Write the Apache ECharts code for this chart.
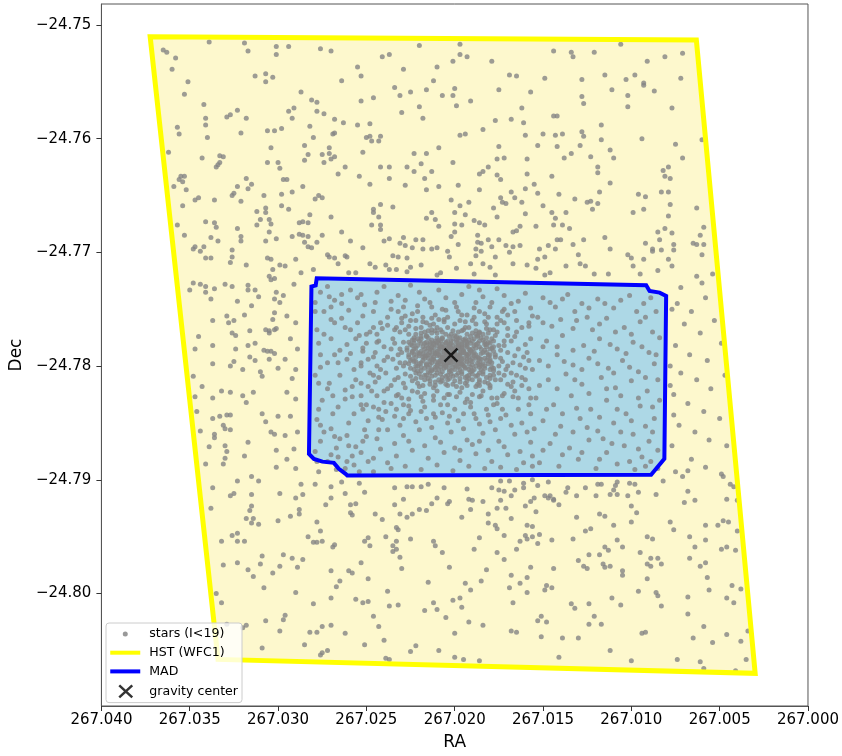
<!DOCTYPE html>
<html>
<head>
<meta charset="utf-8">
<script src="https://cdn.jsdelivr.net/npm/echarts@6/dist/echarts.min.js"></script>
<style>
  html, body { margin: 0; padding: 0; background: #fff; }
  #chart { width: 842px; height: 756px; }
</style>
</head>
<body>
<div id="chart"></div>
<script>
// Axis ticks
const raTicks = [267.000, 267.005, 267.010, 267.015, 267.020, 267.025, 267.030, 267.035, 267.040];
const decTicks = [-24.80, -24.79, -24.78, -24.77, -24.76, -24.75];

// HST WFC1 footprint (vertices)
const hstRA  = [267.03724, 267.00632, 267.00299, 267.03340];
const hstDec = [-24.75105, -24.75132, -24.80702, -24.80579];

// MAD field outline (vertices)
const madRA  = [267.02781, 267.02787, 267.02811, 267.02825, 267.02797, 267.02749, 267.02684, 267.02656,
                267.02618, 267.02608, 267.00888, 267.00813, 267.00803, 267.00840, 267.00897, 267.00916];
const madDec = [-24.77228, -24.77290, -24.77301, -24.78772, -24.78816, -24.78840, -24.78851, -24.78904,
                -24.78947, -24.78962, -24.78956, -24.78816, -24.77383, -24.77354, -24.77340, -24.77290];

// Gravity center
const centerRA = [267.02021];
const centerDec = [-24.77903];

// Stars (I<19): [RA offset, Dec offset] in units of 1e-4 deg,
// RA = 267 + a*1e-4, Dec = -24.7 - b*1e-4
const RA0 = 267, DEC0 = -24.7, UNIT = 1e-4;
const starOffsets = [
[365,522],[363,524],[358,529],[360,539],[339,515],[319,516],[317,523],[301,519],[294,519],[301,526],[276,521],[270,523],
[351,550],[353,561],[313,545],[307,543],[303,546],[307,550],[264,549],[287,559],[281,566],[278,568],[342,570],[323,575],
[327,579],[329,581],[341,582],[341,588],[318,582],[294,576],[291,573],[278,576],[274,578],[292,582],[268,583],[263,586],
[357,590],[356,596],[340,599],[321,595],[306,593],[302,593],[298,591],[282,589],[280,599],[269,596],[268,595],
[285,606],[304,608],[271,608],[362,612],[343,617],[333,615],[331,616],[333,621],[334,623],[335,625],[306,621],[300,621],
[299,626],[285,619],[283,614],[275,614],[271,613],[268,616],[270,618],[274,621],[262,625],[266,631],[356,636],[355,633],
[353,633],[354,638],[359,642],[352,645],[318,635],[315,640],[317,644],[323,642],[297,636],[295,636],[286,642],[292,647],
[298,649],[277,650],[275,652],[279,653],[326,650],[325,648],[321,655],[336,654],[345,652],[347,654],[354,659],[308,650],
[307,661],[307,665],[312,664],[298,659],[294,662],[270,669],[282,667],[357,676],[341,673],[336,674],[335,678],[323,679],
[310,671],[305,671],[304,675],[312,676],[288,674],[286,673],[283,674],[353,685],[338,687],[334,690],[321,686],[321,690],
[305,682],[307,690],[301,688],[292,686],[288,684],[286,685],[283,686],[285,691],[283,695],[281,696],[278,691],[275,685],
[264,682],[259,690],[347,695],[348,697],[342,695],[344,699],[341,705],[338,705],[326,698],[326,704],[327,709],[318,711],
[306,705],[304,706],[299,711],[303,715],[290,706],[272,702],[271,704],[268,705],[262,703],[261,704],
[220,518],[197,517],[241,528],[237,526],[197,526],[193,528],[201,532],[179,532],[255,537],[253,545],[229,539],[210,537],
[169,544],[165,545],[149,547],[212,549],[234,555],[231,562],[225,559],[216,557],[200,556],[207,562],[201,562],[175,557],
[157,559],[253,567],[246,564],[191,567],[220,572],[199,571],[162,573],[230,577],[218,582],[168,583],[177,584],[161,586],
[255,588],[248,587],[184,592],[197,597],[194,596],[250,599],[248,598],[242,598],[247,602],[243,602],[160,597],[150,596],
[209,608],[175,607],[153,606],[252,612],[223,613],[216,613],[176,618],[172,617],[159,618],[219,622],[201,621],[242,625],
[237,625],[227,625],[223,629],[213,629],[181,625],[186,631],[184,629],[176,632],[174,636],[159,631],[254,633],[237,635],
[217,635],[248,640],[228,641],[209,642],[198,641],[186,645],[155,640],[216,645],[160,644],[168,647],[202,654],[197,659],
[192,656],[174,652],[173,656],[171,657],[166,652],[162,656],[153,648],[150,659],[242,658],[235,660],[246,662],[246,665],
[243,669],[213,665],[200,665],[194,667],[178,661],[160,666],[216,670],[211,671],[189,672],[186,674],[209,677],[200,675],
[196,676],[183,676],[176,669],[247,676],[242,676],[242,680],[163,677],[165,681],[167,682],[154,677],[202,686],[200,682],
[187,685],[240,690],[237,688],[229,687],[222,689],[218,689],[231,692],[228,694],[224,696],[218,697],[213,697],[210,696],
[198,693],[187,691],[185,692],[181,689],[175,689],[179,695],[171,694],[167,695],[163,694],[252,696],[188,697],[185,699],
[152,697],[147,694],[235,703],[232,704],[227,705],[204,699],[203,704],[188,703],[177,704],[169,700],[153,706],[149,704],
[106,517],[144,523],[134,524],[133,528],[121,524],[91,532],[81,528],[71,525],[115,544],[128,548],[103,548],[98,544],
[93,551],[93,553],[72,547],[111,557],[87,558],[128,563],[127,569],[102,562],[102,572],[77,573],[144,580],[142,580],
[117,588],[143,597],[139,596],[128,594],[127,598],[117,601],[94,600],[60,601],[142,607],[129,606],[134,613],[138,617],
[123,616],[112,610],[110,617],[75,605],[71,617],[119,625],[119,630],[145,633],[112,639],[82,628],[79,625],[81,633],
[78,635],[141,649],[132,653],[118,647],[125,656],[123,655],[119,657],[122,662],[96,649],[92,651],[83,647],[79,647],
[93,662],[78,658],[63,661],[99,665],[145,665],[143,670],[137,665],[79,668],[144,676],[139,676],[135,679],[81,679],
[85,682],[77,683],[59,678],[61,685],[142,689],[140,689],[127,689],[115,687],[133,693],[143,697],[112,697],[92,692],
[76,693],[84,689],[65,692],[63,693],[59,693],[88,699],[88,697],[83,698],[76,698],[102,702],[130,702],[60,702],
[100,705],[93,706],[79,706],[63,721],[54,719],
[348,727],[344,728],[341,730],[341,735],[350,733],[336,732],[330,728],[326,730],[317,729],[317,733],[313,733],[311,739],
[338,741],[323,743],[315,747],[337,760],[329,756],[328,762],[325,760],[319,755],[326,771],[324,773],[316,769],[345,774],
[347,785],[337,782],[324,785],[317,782],[313,780],[337,798],[327,800],[325,796],[320,803],[316,792],[313,795],[348,809],
[343,818],[332,822],[327,823],[320,826],[318,832],[314,823],[337,828],[347,827],[346,840],[337,846],[333,844],[329,843],
[327,843],[331,852],[330,855],[327,856],[344,857],[336,860],[336,863],[339,871],[330,870],[329,875],[331,886],[330,881],
[341,886],[317,867],[319,879],[309,842],[307,849],[309,809],[310,805],[305,721],[304,724],[302,723],[301,735],
[307,768],[305,769],[305,771],[302,768],[301,767],[308,786],[306,787],[304,787],[302,789],[305,794],[300,802],[303,759],
[302,753],[299,744],[302,741],[300,844],[302,860],[304,858],[301,874],[301,889],
[337,907],[323,901],[315,897],[311,901],[325,912],[327,914],[315,913],[315,923],[316,927],[318,934],[314,934],[315,938],
[311,939],[338,925],[299,912],[287,904],[286,913],[290,916],[288,926],[288,930],[293,932],[300,936],[279,904],[270,906],
[270,916],[273,922],[262,912],[264,902],[254,903],[251,911],[259,922],[256,921],[259,929],[258,931],[245,930],[241,935],
[234,907],[227,906],[224,906],[219,906],[215,904],[229,917],[234,922],[231,930],[227,933],[224,930],[220,926],[216,927],
[213,921],[210,916],[203,919],[204,921],[206,907],[193,908],[192,917],[190,918],[191,926],[196,933],[278,937],[276,945],
[283,950],[280,955],[278,955],[275,954],[326,949],[323,947],[323,954],[319,954],[332,954],[268,957],[269,959],[251,954],
[249,951],[248,958],[239,950],[233,942],[232,944],[233,954],[235,958],[233,961],[235,963],[231,968],[225,952],[212,954],
[211,958],[207,964],[186,951],[189,961],[309,967],[310,974],[297,966],[292,969],[289,977],[286,970],[299,976],[303,982],
[314,985],[317,979],[323,973],[331,975],[270,980],[260,980],[258,982],[253,973],[249,987],[265,989],[267,994],[270,1004],
[290,999],[308,995],[230,978],[215,990],[203,977],[194,991],[191,997],[238,998],[256,1005],[252,1008],[249,1007],[237,1011],
[232,1010],[217,1015],[212,1008],[210,1014],[205,1021],[201,1006],[197,1004],[196,1012],[280,1009],[332,1008],[335,1000],
[296,1019],[297,1023],[307,1024],[318,1028],[320,1030],[299,1033],[282,1034],[278,1034],[275,1029],[270,1028],[262,1035],
[246,1020],[243,1029],[240,1041],[251,1045],[285,1045],[309,1048],[276,1054],[275,1052],[272,1050],[239,1057],[237,1058],
[225,1051],[222,1046],[209,1050],[200,1056],[195,1058],[192,1025],[200,1035],[186,1059],[329,1027],
[179,907],[175,909],[172,910],[169,901],[174,901],[166,909],[161,903],[161,907],[156,900],[153,905],[147,902],[149,914],
[146,914],[147,916],[144,917],[141,922],[144,918],[137,911],[136,907],[131,914],[126,907],[120,914],[119,904],[117,904],
[112,913],[110,909],[109,905],[108,913],[108,902],[102,914],[101,903],[98,904],[96,911],[86,913],[82,901],[68,910],
[68,892],[48,897],[44,904],[42,906],[46,917],[40,918],[184,919],[181,930],[181,938],[176,925],[171,925],[174,918],
[168,914],[157,919],[155,916],[160,923],[154,928],[168,934],[177,940],[176,943],[159,940],[156,941],[131,933],[118,930],
[115,932],[100,923],[97,929],[100,937],[110,940],[126,945],[123,943],[70,920],[64,918],[78,937],[76,944],[58,940],
[51,940],[48,936],[45,937],[40,945],[172,949],[163,954],[165,961],[160,949],[159,952],[156,950],[152,948],[153,956],
[145,953],[133,952],[108,953],[105,959],[115,959],[113,962],[118,966],[124,966],[130,971],[127,976],[125,978],[116,974],
[115,977],[112,976],[105,980],[105,984],[95,964],[91,950],[88,952],[89,969],[85,969],[83,974],[91,974],[89,976],
[67,950],[64,959],[67,969],[58,953],[61,976],[58,973],[49,961],[46,959],[41,962],[176,964],[172,970],[182,979],
[185,989],[168,984],[163,991],[159,986],[157,977],[144,978],[169,995],[159,999],[148,993],[149,997],[145,995],[91,987],
[96,998],[86,999],[85,1002],[83,1011],[111,1004],[106,1010],[134,1009],[132,1013],[124,1009],[167,1008],[121,1020],[124,1027],
[117,1027],[151,1020],[153,1024],[148,1025],[168,1033],[165,1034],[151,1038],[139,1039],[130,1039],[141,1056],[112,1050],[94,1035],
[92,1034],[100,1059],[74,1058],[68,1003],[68,1018],[65,1039],[59,1029],[61,1060],[59,1066],[54,1043],[46,1036],[43,993],
[38,996],[42,1008],[46,1004],[57,986],[56,997],[34,1033],[38,1042],[35,1058],[41,1068],[184,1028],
[296,712],[287,718],[280,715],[266,710],[260,718],[256,718],[248,710],[245,713],[239,711],[237,715],[233,715],[227,717],
[225,713],[219,711],[210,720],[208,718],[199,714],[191,710],[189,719],[184,710],[180,713],[177,720],[167,710],[159,711],
[154,714],[149,720],[146,718],[137,712],[129,710],[126,712],[121,719],[113,719],[99,712],[95,719],[85,716],[77,712],
[297,738],[291,728],[295,756],[290,762],[293,776],[289,785],[296,794],[290,803],[292,811],[295,823],[290,829],[293,844],
[296,861],[289,858],[291,873],[295,882],[290,890],
[77,750],[75,782],[78,817],[76,843],[77,870],[75,893],
[74,745],[66,752],[58,740],[70,763],[61,771],[53,760],[67,790],[57,795],[49,780],[72,806],[63,812],[55,820],
[47,808],[76,825],[68,833],[59,840],[50,846],[73,852],[64,858],[56,865],[46,870],[66,882],[58,889],[49,895],
[71,897],[78,800],[72,731],[60,727],
[150,740],[143,748],[136,737],[128,745],[119,741],[110,749],[101,738],[93,745],[86,752],[153,757],[145,765],[131,760],
[122,768],[114,758],[104,766],[95,761],[88,770],[148,778],[139,773],[127,782],[118,776],[108,785],[99,779],[90,788],
[84,775],[152,795],[142,790],[133,799],[124,793],[113,802],[105,795],[96,805],[87,798],[147,812],[137,807],[128,816],
[117,810],[109,819],[100,813],[91,822],[84,830],[154,828],[144,834],[134,826],[123,838],[114,830],[103,842],[95,835],
[87,846],[150,848],[140,853],[129,846],[119,857],[110,850],[99,860],[90,866],[146,868],[135,872],[124,865],[114,876],
[104,870],[94,880],[85,874],[152,885],[141,888],[130,882],[120,890],[108,886],[98,891],[89,884],
[146,744],[139,741],[132,752],[124,749],[115,745],[106,742],[97,752],[89,740],[150,762],[140,759],[133,767],[125,757],
[118,763],[109,770],[100,772],[92,757],[150,783],[142,783],[133,786],[121,787],[112,781],[103,789],[94,783],[86,790],
[156,803],[147,800],[138,796],[128,803],[119,798],[110,806],[101,801],[92,810],[85,812],[152,817],[142,820],[132,812],
[124,824],[114,820],[106,826],[96,828],[88,836],[148,838],[139,842],[131,837],[118,845],[108,838],[100,848],[92,853],
[155,855],[143,860],[133,858],[125,854],[116,864],[106,858],[96,873],[88,858],[150,874],[139,878],[128,876],[118,882],
[111,868],[101,884],[92,888],[85,890],
[276,735],[268,742],[259,733],[251,746],[274,752],[264,758],[255,762],[248,770],[278,768],[270,776],[261,781],[252,787],
[276,790],[266,797],[257,803],[248,806],[279,808],[271,815],[262,821],[253,826],[275,830],[266,836],[257,842],[249,848],
[278,847],[270,855],[261,861],[252,866],[276,866],[267,872],[258,879],[249,884],[272,884],[262,890],[254,893],
[272,730],[264,737],[255,740],[279,744],[270,748],[260,751],[252,756],[268,762],[259,768],[274,772],[265,786],[256,776],
[250,780],[272,797],[261,794],[253,797],[276,801],[265,808],[256,812],[249,818],[272,820],[262,829],[253,834],[277,838],
[269,842],[260,850],[251,856],[274,858],[265,864],[256,871],[279,875],[270,878],[261,884],[253,876],[267,891],[277,893],
[279,752],[270,759],[262,766],[254,773],[246,766],[277,780],[268,790],[259,789],[249,794],[242,803],[277,815],[269,826],
[258,818],[250,834],[243,845],[276,852],[268,862],[260,870],[250,862],[243,856],[278,884],[266,880],[257,887],[246,893],
[241,767],[245,744],[253,737],[264,745],[271,739],[258,827],
[240,730],[232,738],[225,729],[217,741],[209,733],[200,744],[192,730],[184,739],[176,732],[168,745],[160,736],[236,750],
[228,756],[221,747],[213,758],[205,751],[197,760],[189,749],[181,757],[173,752],[165,760],[157,749],[242,762],[234,768],
[226,765],[219,771],[210,766],[202,772],[194,766],[186,771],[178,768],[170,773],[162,766],
[244,735],[236,743],[229,748],[220,735],[213,748],[205,740],[196,737],[188,744],[180,748],[172,738],[164,743],[156,756],
[246,752],[238,757],[230,762],[222,760],[214,764],[206,759],[198,752],[190,760],[182,763],[174,760],[166,752],[158,762],
[186,733],
[240,822],[230,828],[221,823],[212,830],[203,825],[194,832],[185,826],[176,833],[167,827],[158,834],[243,838],[234,844],
[225,839],[216,846],[207,841],[198,848],[189,842],[180,849],[171,843],[162,850],[238,856],[229,861],[220,856],[211,863],
[202,858],[193,865],[184,859],[175,866],[166,860],[157,867],[242,873],[233,879],[224,874],[215,881],[206,876],[197,883],
[188,877],[179,884],[170,878],[161,885],[236,890],[219,891],[201,892],[183,890],[165,891],
[236,833],[226,835],[218,831],[208,834],[200,838],[191,836],[182,838],[173,838],[164,838],[157,842],[241,847],[231,852],
[222,849],[213,854],[204,850],[195,855],[186,851],[177,856],[168,852],[159,858],[244,864],[234,868],[226,866],[217,870],
[208,867],[200,872],[190,869],[181,874],[172,871],[163,875],[156,879],[246,881],[238,885],[228,888],[210,887],[192,888],
[174,889],[156,888],[229,846],[186,866],[212,842],[197,874],
[243,778],[236,785],[240,795],[233,802],[243,810],[236,817],[172,778],[164,785],[158,795],[170,800],[162,810],[168,818],[157,776],
[238,764],[231,770],[244,772],[235,776],[240,783],[232,790],[245,788],[238,792],[231,797],[244,800],[239,806],[232,810],
[245,814],[238,820],[232,825],[244,826],[240,832],
[172,762],[165,770],[158,765],[176,770],[168,778],[160,781],[174,786],[166,791],[159,788],[174,793],[167,797],[160,802],
[175,800],[168,806],[160,812],[174,812],[167,814],[158,820],[172,824],[164,828],[176,828],
[230,758],[224,754],[218,757],[211,755],[204,757],[196,755],[189,757],[183,754],[176,757],[170,755],
[233,766],[228,768],[176,763],[170,767],[234,780],[231,785],[172,782],[170,788],
[235,794],[229,800],[173,796],[171,803],[234,812],[229,815],[172,808],[170,816],
[233,826],[226,829],[219,827],[212,826],[206,828],[199,827],[193,829],[186,827],[179,828],[173,826],
[229,834],[217,836],[204,834],[191,832],[178,834],
[250,772],[244,779],[252,784],[246,792],[253,800],[246,808],[253,815],[247,822],[252,838],[246,836],[239,840],[233,838],
[226,842],[219,840],[211,845],[203,844],[195,842],[188,846],[181,843],[174,846],
[166,774],[161,792],[163,799],[165,808],[162,817],[166,822],[157,828],
[228,742],[221,752],[214,744],[207,750],[199,748],[193,755],[186,752],[179,744],[172,750],[232,752],[225,760],[216,762],[209,759],
[226,772],[219,774],[213,771],[207,775],[200,773],[194,776],[188,772],[182,775],[177,773],
[229,779],[223,777],[217,780],[211,778],[205,780],[199,777],[193,779],[186,778],[180,780],
[227,784],[221,782],[215,784],[210,782],[204,784],[198,782],[192,785],[186,783],[180,785],[175,782],
[230,788],[224,787],[218,789],[213,786],[208,788],[203,786],[197,788],[191,786],[185,789],[178,787],
[226,792],[220,791],[215,793],[210,791],[205,793],[200,791],[195,793],[189,791],[183,793],[177,792],
[228,797],[222,796],[216,798],[211,796],[206,798],[201,796],[196,798],[190,796],[184,798],[179,797],
[225,802],[219,801],[213,803],[208,801],[203,803],[198,801],[192,803],[186,801],[180,803],
[228,807],[222,806],[216,808],[210,806],[204,808],[198,806],[192,808],[186,806],[180,808],[175,806],
[224,813],[217,812],[211,814],[204,812],[197,814],[190,812],[183,814],[177,812],
[228,819],[220,818],[212,819],[204,817],[196,819],[188,818],[180,819],
[212,780],[207,781],[202,780],[196,781],[191,780],[214,785],[209,785],[205,786],[200,785],[195,786],[190,785],
[211,789],[206,790],[201,789],[197,790],[192,789],[213,794],[208,795],[203,794],[198,795],[193,794],
[210,799],[205,800],[200,799],[195,800],[190,799],[216,791],[188,793],[202,784],[204,797],
[223,775],[216,774],[210,775],[203,774],[197,775],[191,774],[185,775],
[226,779],[220,778],[214,779],[208,778],[202,778],[196,779],[190,778],[183,779],[178,778],
[224,782],[218,783],[212,781],[207,783],[201,782],[196,783],[189,782],[183,781],[178,783],
[227,786],[221,788],[216,787],[211,788],[206,787],[201,788],[195,787],[189,788],[183,786],[180,790],
[223,790],[218,792],[213,790],[208,792],[203,791],[198,792],[193,790],[187,792],[181,790],
[225,795],[219,797],[214,796],[209,797],[203,796],[198,797],[193,796],[187,797],[182,795],
[222,800],[216,799],[211,801],[206,799],[201,801],[196,799],[191,801],[185,799],[179,801],
[221,804],[215,805],[209,803],[203,805],[197,803],[191,805],[185,803],[178,804],
[225,809],[219,810],[213,809],[207,810],[201,809],[194,810],[188,809],[182,810],
[221,815],[214,816],[208,814],[201,816],[194,815],[187,816],[181,815],
[222,767],[215,769],[208,768],[201,769],[195,768],[188,769],[182,767],
[224,822],[217,824],[210,822],[204,825],[197,823],[190,825],[184,822],
[208,783],[204,782],[199,783],[194,782],[210,787],[205,788],[200,787],[196,788],[207,792],[202,792],[198,792],[193,791],
[209,796],[204,797],[199,796],[195,797],[206,785],[197,785],[203,790],[201,794],
[218,761],[212,763],[206,761],[200,763],[194,761],[188,763],[183,761],
[219,766],[213,768],[207,770],[204,766],[198,770],[192,766],[186,770],[180,768],
[222,772],[216,773],[210,771],[205,772],[199,774],[193,772],[187,773],[181,771],
[224,777],[219,776],[213,777],[207,776],[201,776],[195,777],[189,776],[184,777],[179,776],
[225,781],[219,780],[214,781],[209,780],[203,781],[198,780],[193,781],[187,780],[182,781],
[223,785],[217,785],[212,784],[206,784],[201,786],[196,784],[191,787],[185,785],[179,784],
[226,790],[220,789],[215,790],[209,790],[204,789],[199,790],[194,789],[188,790],[182,788],[177,790],
[224,794],[217,793],[212,794],[206,794],[201,793],[196,794],[190,793],[185,794],[180,794],
[226,798],[220,798],[214,799],[208,798],[203,799],[197,798],[192,798],[186,799],[181,798],
[223,803],[217,802],[211,803],[206,802],[200,803],[194,802],[189,803],[183,802],[178,802],
[220,807],[214,806],[208,807],[202,807],[196,807],[190,807],[184,807],[178,808],
[222,811],[215,811],[209,812],[203,811],[197,811],[192,811],[186,812],[180,811],
[218,817],[211,817],[205,816],[199,818],[193,817],[186,817],[180,817],
[217,770],[211,769],[196,769],[190,771],[184,772],
[221,776],[215,775],[209,777],[204,778],[198,776],[192,777],[187,774],
[223,780],[216,779],[210,779],[205,779],[199,779],[194,778],[188,781],[181,779],
[222,784],[216,782],[213,783],[208,784],[203,783],[198,784],[193,783],[188,784],[182,783],
[224,788],[219,787],[214,788],[210,789],[205,790],[200,789],[195,788],[190,789],[184,788],
[222,792],[217,791],[212,792],[207,793],[202,790],[197,791],[192,792],[186,793],[181,792],
[223,796],[218,795],[213,797],[207,796],[202,797],[197,795],[191,795],[186,796],[180,796],
[221,800],[215,801],[210,800],[205,801],[199,800],[194,801],[188,800],[183,800],
[219,804],[213,804],[207,805],[202,804],[196,805],[190,804],[184,805],
[217,808],[211,808],[205,809],[199,808],[193,809],[187,808],
[214,813],[207,813],[200,813],[193,813],[186,814]
];

const stars = starOffsets.map(([a, b]) => [RA0 + a * UNIT, DEC0 - b * UNIT]);

const FONT = 'DejaVu Sans';
const chart = echarts.init(document.getElementById('chart'), null, { renderer: 'canvas' });

function polygonSeries(name, ras, decs, style, z) {
  return {
    name: name,
    type: 'custom',
    z: z,
    silent: true,
    coordinateSystem: 'cartesian2d',
    encode: { x: 0, y: 1 },
    data: [[ras[0], decs[0]]],
    renderItem: function (params, api) {
      const pts = ras.map((r, i) => api.coord([r, decs[i]]));
      return { type: 'polygon', shape: { points: pts }, style: style };
    }
  };
}

const option = {
  animation: false,
  backgroundColor: '#ffffff',
  textStyle: { fontFamily: FONT },
  grid: { left: 100, right: 33, top: 4, bottom: 48, show: true, borderColor: '#555', borderWidth: 1, backgroundColor: 'transparent' },
  xAxis: {
    type: 'value',
    min: raTicks[0], max: raTicks[raTicks.length - 1], interval: 0.005,
    inverse: true,
    name: 'RA', nameLocation: 'middle', nameGap: 28,
    nameTextStyle: { fontSize: 17, color: '#000', fontFamily: FONT },
    axisLine: { show: true, lineStyle: { color: '#555', width: 1 } },
    axisTick: { show: true, length: 5, lineStyle: { color: '#333' } },
    axisLabel: { fontSize: 15, color: '#000', margin: 7, fontFamily: FONT, formatter: v => v.toFixed(3) },
    splitLine: { show: false }
  },
  yAxis: {
    type: 'value',
    min: -24.80989, max: -24.74816,
    name: 'Dec', nameLocation: 'middle', nameGap: 73,
    nameTextStyle: { fontSize: 17, color: '#000', fontFamily: FONT },
    axisLine: { show: true, lineStyle: { color: '#555', width: 1 } },
    axisTick: { show: true, length: 5, lineStyle: { color: '#333' }, customValues: decTicks },
    axisLabel: { fontSize: 15, color: '#000', margin: 10, fontFamily: FONT, customValues: decTicks,
                 formatter: v => '\u2212' + Math.abs(v).toFixed(2) },
    splitLine: { show: false }
  },
  legend: {
    orient: 'vertical', left: 106, top: 623,
    itemWidth: 34, itemHeight: 14, itemGap: 4.7,
    padding: [4, 4, 3, 3],
    backgroundColor: 'rgba(255,255,255,0.8)', borderColor: '#cccccc', borderWidth: 1, borderRadius: 3,
    selectedMode: false,
    textStyle: { fontFamily: FONT, fontSize: 12.6, color: '#000' },
    data: [
      { name: 'stars (I<19)', icon: 'path://M0,0M34,14M12.5,7a2.5,2.5 0 1,0 5,0a2.5,2.5 0 1,0 -5,0', itemStyle: { color: '#808080', borderWidth: 0 } },
      { name: 'HST (WFC1)', icon: 'path://M0,0M34,14M0,5h30v4h-30z', itemStyle: { color: '#ffff00', borderWidth: 0 } },
      { name: 'MAD', icon: 'path://M0,0M34,14M0,5h30v4h-30z', itemStyle: { color: '#0000ff', borderWidth: 0 } },
      { name: 'gravity center', icon: 'path://M0,0M34,14M9,1L22,13M22,1L9,13', itemStyle: { color: 'rgba(0,0,0,0)', borderColor: '#000', borderWidth: 2.5 } }
    ]
  },
  series: [
    polygonSeries('HST area', hstRA, hstDec, { fill: '#fdf8cd', stroke: 'none' }, 1),
    polygonSeries('MAD area', madRA, madDec, { fill: '#add8e6', stroke: 'none' }, 1),
    {
      name: 'stars (I<19)', type: 'scatter', z: 2, silent: true,
      symbol: 'circle', symbolSize: 5,
      itemStyle: { color: '#858585' },
      data: stars
    },
    polygonSeries('HST (WFC1)', hstRA, hstDec, { fill: 'none', stroke: '#ffff00', lineWidth: 5, lineJoin: 'miter' }, 3),
    polygonSeries('MAD', madRA, madDec, { fill: 'none', stroke: '#0000ff', lineWidth: 4, lineJoin: 'miter' }, 3),
    {
      name: 'gravity center', type: 'scatter', z: 4, silent: true,
      symbol: 'path://M0,0L10,10M10,0L0,10', symbolSize: 13,
      itemStyle: { color: 'rgba(0,0,0,0)', borderColor: '#000', borderWidth: 2.6 },
      data: centerRA.map((r, i) => [r, centerDec[i]])
    }
  ]
};

chart.setOption(option);
</script>
</body>
</html>
